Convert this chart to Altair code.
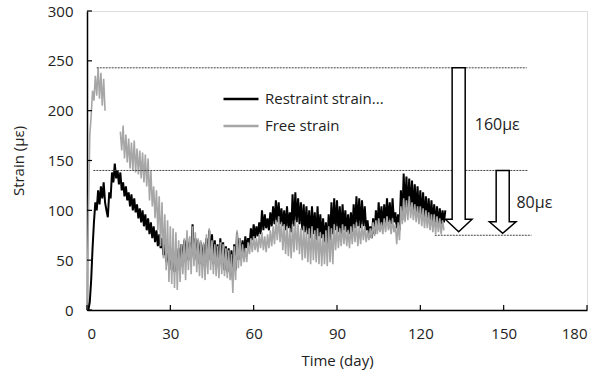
import altair as alt
import pandas as pd

# ---------------- data ----------------
# daily readings: value at day d ("a") and at day d+0.5 ("b")
days = list(range(0, 130))

restraint_a = [0, 8, 62, 108, 120, 124, 128, 100, 118, 138,
               147, 140, 138, 128, 124, 118, 116, 112, 106, 102,
               100, 96, 92, 88, 84, 80, 76, 72, 66, 64,
               62, 60, 58, 62, 66, 70, 74, 68, 86, 72,
               70, 68, 66, 72, 80, 76, 70, 66, 72, 68,
               64, 62, 60, 66, 78, 72, 70, 74, 72, 82,
               86, 84, 88, 100, 96, 92, 98, 104, 110, 108,
               102, 100, 104, 98, 116, 118, 112, 108, 106, 104,
               100, 104, 98, 104, 96, 92, 88, 96, 108, 112,
               110, 104, 106, 100, 96, 98, 106, 114, 112, 110,
               104, 90, 84, 92, 100, 108, 104, 106, 112, 108,
               112, 98, 96, 120, 137, 134, 132, 130, 126, 124,
               120, 118, 114, 112, 110, 106, 104, 102, 100, 100]
restraint_b = [0, 30, 88, 100, 106, 112, 108, 93, 112, 128,
               132, 126, 120, 114, 110, 104, 100, 98, 92, 88,
               84, 80, 76, 72, 68, 64, 62, 55, 48, 44,
               40, 38, 40, 42, 44, 48, 50, 52, 54, 50,
               46, 44, 42, 48, 50, 46, 44, 42, 46, 40,
               38, 36, 30, 40, 50, 52, 56, 62, 64, 70,
               72, 74, 76, 80, 82, 80, 84, 86, 88, 86,
               84, 80, 82, 78, 84, 88, 86, 80, 78, 76,
               72, 76, 70, 74, 72, 68, 64, 70, 76, 80,
               78, 76, 80, 78, 76, 78, 82, 84, 82, 84,
               80, 74, 72, 76, 80, 84, 82, 86, 88, 86,
               88, 82, 80, 90, 100, 98, 100, 98, 96, 94,
               92, 90, 88, 86, 86, 84, 84, 86, 88, None]

free_a = [0, 175, 220, 235, 243, 238, 232, None, None, None,
          None, None, 179, 185, 176, 172, 168, 170, 162, 160,
          158, 156, 152, 140, 124, 120, 114, 108, 96, 90,
          84, 82, 78, 70, 66, 72, 80, 74, 84, 78,
          72, 70, 68, 76, 82, 70, 66, 64, 68, 66,
          62, 60, 56, 64, 80, 72, 66, 62, 68, 72,
          74, 72, 76, 78, 74, 76, 80, 84, 90, 94,
          88, 86, 84, 82, 86, 90, 86, 82, 84, 80,
          82, 84, 80, 82, 78, 76, 80, 84, 82, 86,
          84, 82, 86, 84, 80, 84, 86, 88, 84, 86,
          84, 80, 82, 88, 90, 92, 88, 92, 94, 90,
          92, 86, 88, 104, 112, 110, 114, 108, 106, 104,
          104, 102, 100, 98, 96, 96, 94, 92, 90, None]
free_b = [95, 195, 210, 215, 212, 205, 200, None, None, None,
          None, None, 160, 152, 148, 142, 140, 138, 136, 132,
          128, 124, 110, 104, 92, 80, 64, 52, 40, 28,
          26, 22, 20, 28, 36, 30, 40, 36, 44, 38,
          34, 32, 30, 36, 40, 36, 34, 32, 36, 34,
          32, 30, 17, 30, 42, 44, 48, 48, 56, 58,
          60, 58, 62, 60, 58, 62, 64, 66, 70, 68,
          60, 56, 54, 52, 58, 60, 56, 50, 52, 48,
          46, 50, 48, 46, 44, 46, 44, 48, 46, 60,
          62, 64, 66, 64, 62, 66, 68, 64, 66, 70,
          68, 70, 72, 74, 76, 78, 76, 78, 80, 76,
          78, 66, 70, 86, 88, 90, 92, 90, 88, 86,
          84, 82, 82, 80, 78, 76, 78, 76, 80, None]

series_names = ["Restraint strain...", "Free strain"]

# reference lines (value, from day, to day)
guide_value = [243, 140, 75]
guide_from = [3.5, 2.3, 125.2]
guide_to = [158.3, 158.6, 160.0]

# arrows: top value, start of head, tip, centre day
arrow_top = [243, 140]
arrow_head = [91, 88.6]
arrow_tip = [78.5, 77]
arrow_day = [133.8, 149.65]
arrow_label = ["160με", "80με"]
label_day = [139.6, 154.6]
label_value = [185.6, 107.7]

x_ticks = [0, 30, 60, 90, 120, 150, 180]
y_ticks = [0, 50, 100, 150, 200, 250, 300]

# ---------------- build tables ----------------
def build(name, a_vals, b_vals):
    rows = []
    seg = 0
    for d, a, b in zip(days, a_vals, b_vals):
        for t, v in ((d, a), (d + 0.5, b)):
            if v is None:
                seg += 1
                continue
            rows.append({"day": t, "value": v, "series": name, "seg": f"{name}-{seg}"})
    return pd.DataFrame(rows)

df_r = build(series_names[0], restraint_a, restraint_b)
df_f = build(series_names[1], free_a, free_b)

guides = pd.DataFrame({"value": guide_value, "day": guide_from, "day2": guide_to})

SHAFT_HALF = 2.35
HEAD_HALF = 4.8
arrow_rows = []
for i in range(len(arrow_top)):
    c = arrow_day[i]
    arrow_rows += [
        {"arrow": i, "value": arrow_top[i], "day": c - SHAFT_HALF, "day2": c + SHAFT_HALF},
        {"arrow": i, "value": arrow_head[i] + 0.01, "day": c - SHAFT_HALF, "day2": c + SHAFT_HALF},
        {"arrow": i, "value": arrow_head[i], "day": c - HEAD_HALF, "day2": c + HEAD_HALF},
        {"arrow": i, "value": arrow_tip[i], "day": c, "day2": c},
    ]
arrows = pd.DataFrame(arrow_rows)
labels = pd.DataFrame({"day": label_day, "value": label_value, "text": arrow_label})

FONT = "Open Sans"
TXT = "#222222"
xscale = alt.Scale(domain=[0, 180], nice=False)
yscale = alt.Scale(domain=[0, 300], nice=False)
xaxis = alt.Axis(values=x_ticks, title="Time (day)", ticks=False, grid=False,
                 labelFontSize=15, labelPadding=16, labelFont=FONT, labelColor=TXT,
                 titleFont=FONT, titleFontSize=15, titleFontWeight="normal", titleColor=TXT,
                 titleX=250, titleY=50, titleBaseline="middle", titleAlign="center",
                 domainColor="#000", domainWidth=1.5)
yaxis = alt.Axis(values=y_ticks, title="Strain (με)", ticks=False, grid=False,
                 labelFontSize=15, labelPadding=14, labelFont=FONT, labelColor=TXT,
                 titleFont=FONT, titleFontSize=15, titleFontWeight="normal", titleColor=TXT,
                 titleX=-69, titleY=149.5, titleAngle=270, titleBaseline="middle",
                 titleAlign="center", domainColor="#000", domainWidth=1.5)

X = alt.X("day:Q", scale=xscale, axis=xaxis)
Y = alt.Y("value:Q", scale=yscale, axis=yaxis)

color = alt.Color("series:N",
                  scale=alt.Scale(domain=series_names, range=["#000000", "#a6a6a6"]),
                  legend=alt.Legend(title=None, orient="none", legendX=135, legendY=69,
                                    symbolType="stroke", symbolSize=1225, symbolStrokeWidth=2.5,
                                    labelFontSize=15, labelFont=FONT, labelColor=TXT,
                                    labelOffset=5, rowPadding=0, padding=0,
                                    labelLimit=300, labelBaseline="middle"))

line_r = alt.Chart(df_r).mark_line(strokeWidth=2).encode(x=X, y=Y, color=color, detail="seg:N")
line_f = alt.Chart(df_f).mark_line(strokeWidth=1.6).encode(x=X, y=Y, color=color, detail="seg:N")

guide_layer = alt.Chart(guides).mark_rule(color="#444", strokeWidth=1, strokeDash=[2, 1]).encode(
    x=X, x2="day2:Q", y=Y)

arrow_layer = alt.Chart(arrows).mark_area(orient="horizontal", fill="white", stroke="black",
                                          strokeWidth=1.5, opacity=1).encode(
    y=Y, x=alt.X("day:Q", scale=xscale, axis=xaxis, stack=None), x2="day2:Q", detail="arrow:N")

label_layer = alt.Chart(labels).mark_text(align="left", baseline="middle", fontSize=16,
                                          font=FONT, color=TXT).encode(x=X, y=Y, text="text:N")

ytick_df = pd.DataFrame({"value": y_ticks})
xtick_df = pd.DataFrame({"day": x_ticks})
ytick_layer = alt.Chart(ytick_df).mark_rule(color="#000", strokeWidth=1.2).encode(
    y=Y, x=alt.value(0), x2=alt.value(5))
xtick_layer = alt.Chart(xtick_df).mark_rule(color="#000", strokeWidth=1.2).encode(
    x=X, y=alt.value(299), y2=alt.value(294))

chart = alt.layer(line_r, line_f, guide_layer, arrow_layer, label_layer,
                  ytick_layer, xtick_layer).properties(
    width=500, height=299,
    autosize=alt.AutoSizeParams(type="none"),
    padding={"left": 87, "top": 11, "right": 15, "bottom": 66},
).configure_view(stroke="#000", strokeWidth=1.5).configure(background="white") \
 .configure_legend(symbolLimit=0)

chart.save("out.html", embed_options={"renderer": "svg", "actions": False})
